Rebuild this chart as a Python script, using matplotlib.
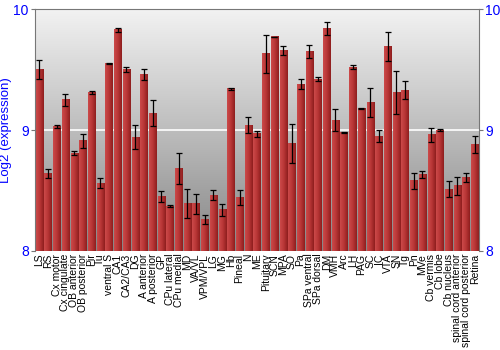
import numpy as np
import matplotlib
matplotlib.use('Agg')
import matplotlib.pyplot as plt
from matplotlib.colors import LinearSegmentedColormap

plt.rcParams['font.family'] = ['Liberation Sans', 'DejaVu Sans']

# regions on the x axis
regions = ["LS", "RS", "Cx motor", "Cx cingulate", "OB anterior", "OB posterior",
           "Pir", "Tu", "ventral S", "CA1", "CA2/CA3", "DG", "A anterior",
           "A posterior", "GP", "CPu lateral", "CPu medial", "MD", "VA/VL",
           "VPM/VPL", "LG", "MG", "Hb", "Pineal", "N", "ME", "Pituitary", "SCN",
           "MPA", "SO", "Pa", "SPa ventral", "SPa dorsal", "DM", "VMH", "Arc",
           "LH", "PAG", "SC", "IC", "VTA", "SN", "Tg", "Pn", "MVe", "Cb vermis",
           "Cb lobe", "Cb nucleus", "spinal cord anterior",
           "spinal cord posterior", "Retina"]

# log2 expression
expression = [9.50, 8.64, 9.03, 9.25, 8.81, 8.91, 9.31, 8.56, 9.55, 9.83,
              9.50, 8.94, 9.46, 9.14, 8.45, 8.37, 8.68, 8.39, 8.39, 8.26,
              8.46, 8.34, 9.34, 8.44, 9.04, 8.97, 9.63, 9.77, 9.66, 8.89,
              9.38, 9.65, 9.42, 9.84, 9.08, 8.98, 9.52, 9.18, 9.23, 8.95,
              9.69, 9.31, 9.33, 8.58, 8.63, 8.96, 9.00, 8.51, 8.54, 8.61,
              8.88]

# error (half range)
errors = [0.077, 0.037, 0.010, 0.048, 0.015, 0.055, 0.010, 0.040, 0.005, 0.017,
          0.020, 0.100, 0.048, 0.110, 0.044, 0.008, 0.130, 0.120, 0.083, 0.039,
          0.041, 0.047, 0.006, 0.060, 0.066, 0.025, 0.155, 0.003, 0.036, 0.160,
          0.039, 0.056, 0.018, 0.051, 0.091, 0.005, 0.019, 0.005, 0.120, 0.052,
          0.117, 0.178, 0.076, 0.067, 0.028, 0.056, 0.011, 0.065, 0.074, 0.037,
          0.074]

fig = plt.figure(figsize=(5, 3.5), dpi=100)
ax = fig.add_axes([0.07, 0.283, 0.888, 0.691])

ymin, ymax = 8, 10
n = len(regions)
x = np.arange(n)
width = 0.82

# gray gradient background, light at the top
bg_cmap = LinearSegmentedColormap.from_list('bg', ['#f2f2f2', '#bdbdbd', '#868686'])
grad = np.linspace(0, 1, 256).reshape(-1, 1)
ax.imshow(grad, extent=[-0.5, n - 0.5, ymin, ymax], aspect='auto', cmap=bg_cmap,
          zorder=0, origin='upper')

# bars with horizontal red gradient
bar_cmap = LinearSegmentedColormap.from_list('bar', ['#cc4a4a', '#b83636', '#8e1e1e'])
hgrad = np.linspace(0, 1, 64).reshape(1, -1)
for xi, val in zip(x, expression):
    ax.imshow(hgrad, extent=[xi - width / 2, xi + width / 2, ymin, val],
              aspect='auto', cmap=bar_cmap, zorder=2, origin='lower')

ax.axhline(9, color='white', lw=1.2, zorder=1)

ax.errorbar(x, expression, yerr=errors, fmt='none', ecolor='black', elinewidth=0.9,
            capsize=2, capthick=0.9, zorder=3)

ax.set_xlim(-0.5, n - 0.5)
ax.set_ylim(ymin, ymax)
ax.set_yticks([8, 9, 10])
ax.tick_params(axis='y', colors='#777777', labelcolor='blue', labelsize=10,
               length=3, pad=1.5, right=True, labelright=True)
ax.set_xticks(x)
ax.set_xticklabels(regions, rotation=90, fontsize=7.5)
ax.tick_params(axis='x', length=0, pad=2)
ax.set_ylabel('Log2 (expression)', color='blue', fontsize=9.5, labelpad=1)

for side in ['top', 'left', 'right']:
    ax.spines[side].set_color('#777777')
ax.spines['bottom'].set_visible(False)

fig.savefig('out.png', dpi=100)
